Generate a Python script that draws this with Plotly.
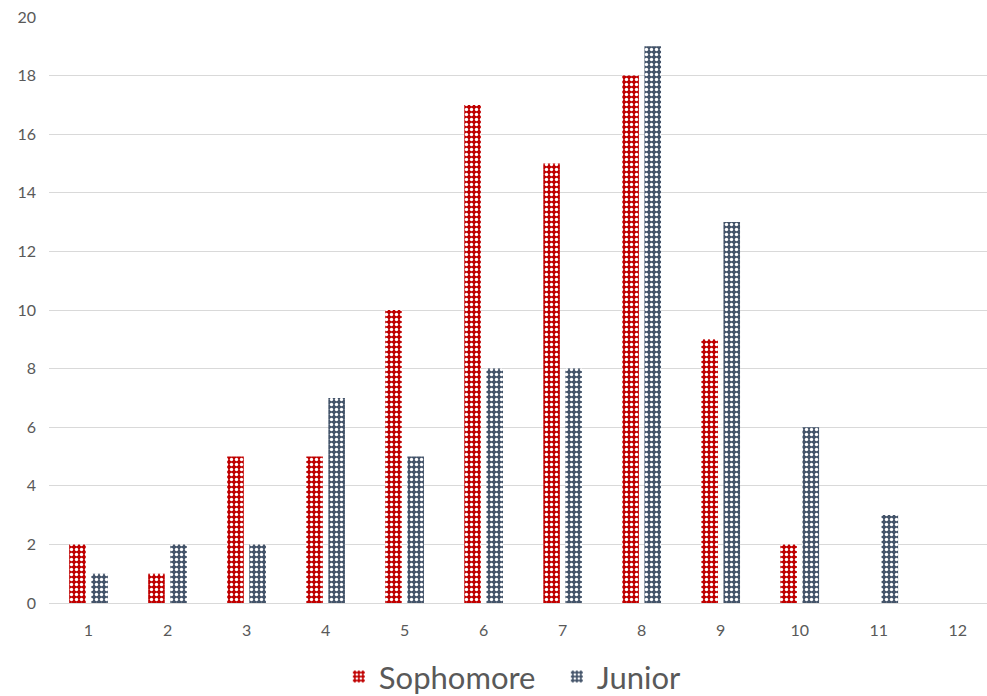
import plotly.graph_objects as go

categories = [str(i) for i in range(1, 13)]
sophomore = [2, 1, 5, 5, 10, 17, 15, 18, 9, 2, 0, 0]
junior = [1, 2, 2, 7, 5, 8, 8, 19, 13, 6, 3, 0]
y_ticks = list(range(0, 21, 2))

RED = "#C00000"
BLUE = "#44546A"

def pat(c):
    return dict(shape=".", bgcolor=c, fgcolor="white", size=5, solidity=0.35, fillmode="replace")

fig = go.Figure()
fig.add_trace(go.Bar(x=categories, y=sophomore, name="Sophomore",
                     marker=dict(color=RED, pattern=pat(RED), line=dict(width=0))))
fig.add_trace(go.Bar(x=categories, y=junior, name="Junior",
                     marker=dict(color=BLUE, pattern=pat(BLUE), line=dict(width=0))))

fig.update_layout(
    width=987, height=696,
    margin=dict(l=49, r=0, t=17, b=93, autoexpand=False),
    paper_bgcolor="white", plot_bgcolor="white",
    barmode="group", bargap=0.44, bargroupgap=0.25,
    font=dict(family="Lato, Open Sans, sans-serif", color="#595959", size=16),
    xaxis=dict(type="category", range=[-0.5, 11.37], showgrid=False, showline=True,
               linecolor="#D9D9D9", linewidth=1, ticks="", ticklabelstandoff=13,
               tickfont=dict(size=16, color="#595959")),
    yaxis=dict(range=[0, 20], tickvals=y_ticks, showgrid=True, gridcolor="#D9D9D9",
               gridwidth=1, zeroline=False, showline=False, ticks="",
               tickfont=dict(size=16, color="#595959"), ticklabelstandoff=12),
    legend=dict(orientation="h", x=0.309, xanchor="left",
                y=-0.08, yanchor="top", entrywidth=173,
                font=dict(size=31, color="#595959"), itemwidth=30),
)

fig.write_html("out.html")
